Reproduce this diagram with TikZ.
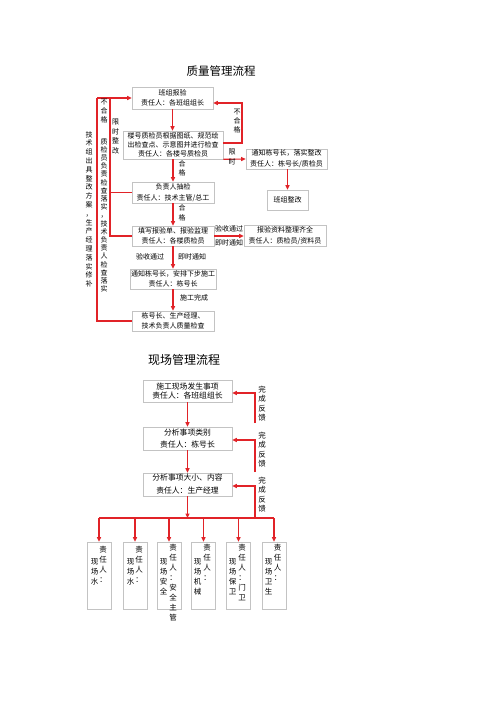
\documentclass[tikz,border=0pt]{standalone}
\usepackage{fontspec}
\setmainfont{Noto Sans CJK SC}
\usetikzlibrary{arrows.meta}
\definecolor{lr}{RGB}{225,35,40}
\definecolor{bx}{RGB}{195,195,195}
\tikzset{
 box/.style={draw=bx, line width=0.6pt, fill=white, inner sep=1pt, align=center, font=\fontsize{7}{10}\selectfont},
 sbox/.style={draw=bx, line width=0.6pt, fill=white, minimum width=24pt, minimum height=67pt},
 arr/.style={draw=lr, line width=1.1pt, -{Triangle[length=4.5pt,width=4pt]}},
 ln/.style={draw=lr, line width=1.1pt},
 lbl/.style={inner sep=0pt, align=center, font=\fontsize{7}{9}\selectfont},
 vcol/.style={inner sep=0pt, align=center, anchor=north, font=\fontsize{7.5}{10}\selectfont},
}
\begin{document}
\begin{tikzpicture}[x=1pt,y=-1pt]
\useasboundingbox[fill=white] (0,0) rectangle (500,707);

% ---------- chart 1 ----------
\node[inner sep=0pt, font=\fontsize{11.5}{12}\selectfont] (t1) at (221,71) {质量管理流程};

\node[box, minimum width=81pt, minimum height=22pt] (b1) at (172.5,98) {班组报验\\责任人：各班组组长};
\node[box, minimum width=100pt, minimum height=28pt, font=\fontsize{7}{9}\selectfont] (b2) at (173,145) {楼号质检员根据图纸、规范绘\\出检查点、示意图并进行检查\\责任人：各楼号质检员};
\node[box, minimum width=82pt, minimum height=21pt, font=\fontsize{7}{11}\selectfont] (b3) at (173,192.5) {负责人抽检\\责任人：技术主管/总工};
\node[box, minimum width=82pt, minimum height=20pt] (b4) at (173,236) {填写报验单、报验监理\\责任人：各楼质检员};
\node[box, minimum width=82pt, minimum height=20pt] (b5) at (173,279) {通知栋号长，安排下步施工\\责任人：栋号长};
\node[box, minimum width=82pt, minimum height=20pt, font=\fontsize{7}{9.5}\selectfont] (b6) at (173,321) {栋号长、生产经理、\\技术负责人质量检查};
\node[box, minimum width=81pt, minimum height=20pt, font=\fontsize{7}{11}\selectfont] (b7) at (286.5,159) {通知栋号长，落实整改\\责任人：栋号长/质检员};
\node[box, minimum width=41pt, minimum height=20pt] (b8) at (287.5,200) {班组整改};
\node[box, minimum width=82pt, minimum height=21pt, font=\fontsize{7}{11}\selectfont] (b9) at (285,235.5) {报验资料整理齐全\\责任人：质检员/资料员};

% main chain
\draw[arr] (b1.south) -- (b1.south |- b2.north);
\draw[arr] (b2.south) -- (b2.south |- b3.north);
\draw[arr] (b3.south) -- (b3.south |- b4.north);
\draw[arr] (b4.south) -- (b4.south |- b5.north);
\draw[arr] (b5.south) -- (b5.south |- b6.north);

% right side
\coordinate (r1) at (242,103);
\draw[arr] ([yshift=2pt]b2.east) -| (r1) -- (b1.east |- r1);
\draw[arr] (b2.south east) -- (b7.west);
\draw[arr] (b7.south -| b8.north) -- (b8.north);
\draw[arr] (b4.east) -- (b9.west |- b4.east);

% left side
\coordinate (o1) at (97,98);
\coordinate (i1) at (110,98);
\draw[arr] (o1) -- (b1.west);
\draw[ln] (o1) |- (b6.west);
\draw[ln] (i1) |- (b4.west);
\draw[ln] (i1 |- b3.west) -- (b3.west);

% labels chart 1
\node[lbl, anchor=north] (l1) at (104,98.5) {不\\合\\格};
\node[lbl, anchor=north, font=\fontsize{7}{8.2}\selectfont] (l2) at (104,138) {质\\检\\员\\负\\责\\检\\查\\落\\实\\，\\技\\术\\负\\责\\人\\检\\查\\落\\实};
\node[lbl, anchor=north, font=\fontsize{7}{9.5}\selectfont] (l3) at (115.5,119) {限\\时\\整\\改};
\node[lbl, anchor=north, font=\fontsize{7}{8.8}\selectfont] (l4) at (89,131) {技\\术\\组\\出\\具\\整\\改\\方\\案\\，\\生\\产\\经\\理\\落\\实\\修\\补};
\node[lbl, anchor=north] (l5) at (237,109) {不\\合\\格};
\node[lbl, anchor=north, font=\fontsize{7}{10}\selectfont] (l6) at (232,149) {限\\时};
\node[lbl, anchor=north] (l7) at (182,160) {合\\格};
\node[lbl, anchor=north, font=\fontsize{7}{10}\selectfont] (l8) at (182,204) {合\\格};
\node[lbl] (l9) at (150,257) {验收通过};
\node[lbl] (l10) at (192,257) {即时通知};
\node[lbl] (l11) at (194,298) {施工完成};
\node[lbl] (l12) at (229,229) {验收通过};
\node[lbl] (l13) at (229,243) {即时通知};

% ---------- chart 2 ----------
\node[inner sep=0pt, font=\fontsize{12}{13}\selectfont] (t2) at (184,360) {现场管理流程};

\node[box, minimum width=89pt, minimum height=22pt, font=\fontsize{7.8}{9.5}\selectfont] (a) at (187.5,391) {施工现场发生事项\\责任人：各班组组长};
\node[box, minimum width=89pt, minimum height=23pt, font=\fontsize{7.8}{12}\selectfont] (b) at (187.5,438.5) {分析事项类别\\责任人：栋号长};
\node[box, minimum width=89pt, minimum height=23pt, font=\fontsize{7.8}{13}\selectfont] (c) at (187.5,484.5) {分析事项大小、内容\\责任人：生产经理};

\draw[arr] (a.south) -- (a.south |- b.north);
\draw[arr] (b.south) -- (b.south |- c.north);

\coordinate (bus) at (187.5,518);
\draw[arr] (c.south) -- (bus);

\coordinate (f1) at (255,423);
\coordinate (f2) at (255,472);
\coordinate (f3) at (255,518);
\draw[arr] (f1) |- ([yshift=-2pt]a.east);
\draw[arr] (f2) |- ([yshift=-1.5pt]b.east);
\draw[arr] (f3) |- ([yshift=-1.5pt]c.east);

\node[lbl, anchor=north, font=\fontsize{7.5}{9.3}\selectfont] (g1) at (262,386) {完\\成\\反\\馈};
\node[lbl, anchor=north, font=\fontsize{7.5}{9.3}\selectfont] (g2) at (262,432) {完\\成\\反\\馈};
\node[lbl, anchor=north, font=\fontsize{7.5}{9.3}\selectfont] (g3) at (262,477) {完\\成\\反\\馈};

% bottom boxes
\node[sbox] (s1) at (99,575.5) {};
\node[sbox] (s2) at (135,575.5) {};
\node[sbox] (s3) at (169,575.5) {};
\node[sbox] (s4) at (203.5,575.5) {};
\node[sbox] (s5) at (238.5,575.5) {};
\node[sbox] (s6) at (274,575.5) {};

\draw[ln] (s1.north |- bus) -- (s6.north |- bus);
\foreach \s in {s1,s2,s3,s4,s5,s6}{
  \draw[arr] (\s.north |- bus) -- (\s.north);
}

\node[vcol] (s1r) at (103,545.5) {责\\任\\人\\：};
\node[vcol] (s1l) at (94.5,558) {现\\场\\水};
\node[vcol] (s2r) at (139,545.5) {责\\任\\人\\：};
\node[vcol] (s2l) at (130.5,558) {现\\场\\水};
\node[vcol] (s3r) at (173,544) {责\\任\\人\\：\\安\\全\\主\\管};
\node[vcol] (s3l) at (163.5,558) {现\\场\\安\\全};
\node[vcol] (s4r) at (207,544) {责\\任\\人\\：};
\node[vcol] (s4l) at (197.5,558) {现\\场\\机\\械};
\node[vcol] (s5r) at (242,544) {责\\任\\人\\：\\门\\卫};
\node[vcol] (s5l) at (232.5,558) {现\\场\\保\\卫};
\node[vcol] (s6r) at (277.5,544) {责\\任\\人\\：};
\node[vcol] (s6l) at (268.5,558) {现\\场\\卫\\生};
\end{tikzpicture}
\end{document}
